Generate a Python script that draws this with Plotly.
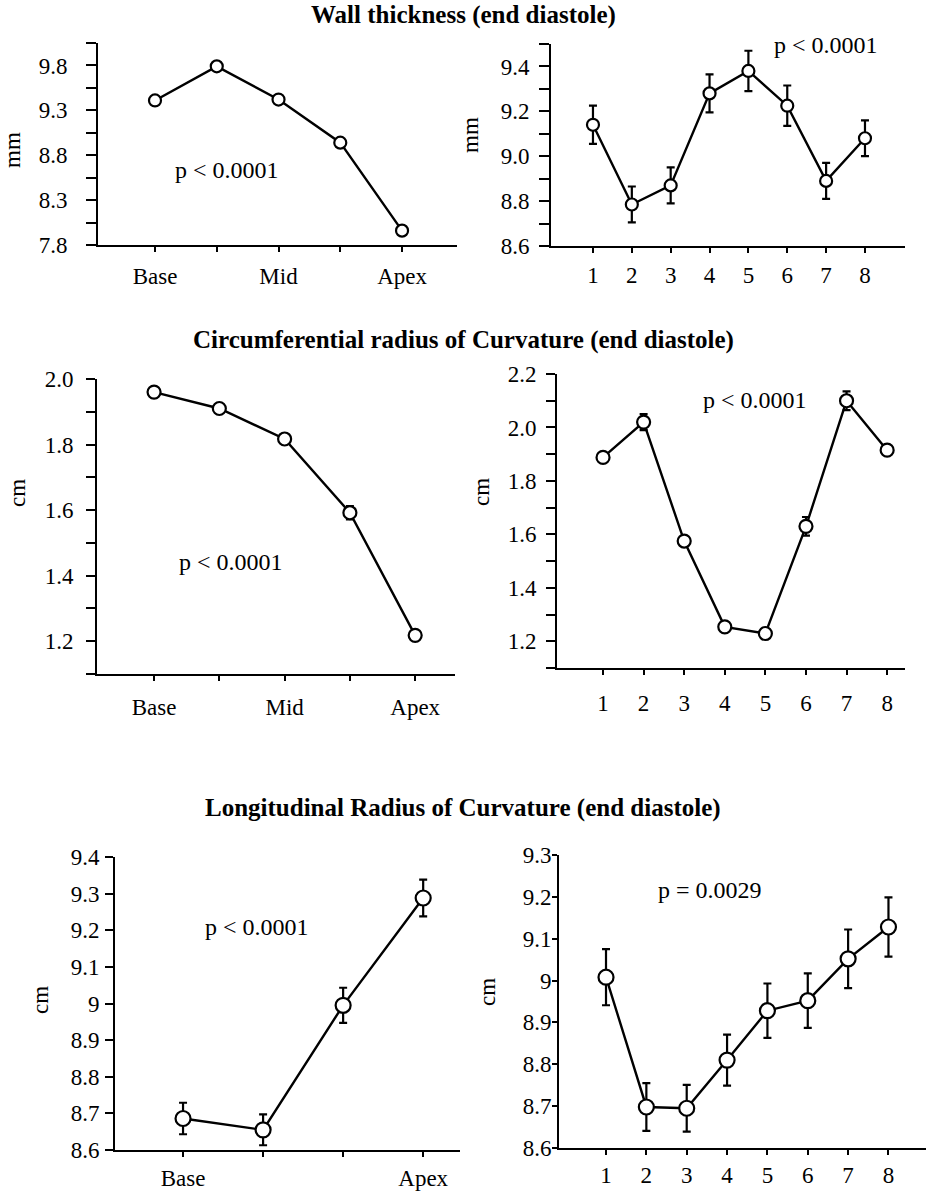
import plotly.graph_objects as go

# ---------------- data ----------------
region_labels_5 = ["Base", "", "Mid", "", "Apex"]
region_labels_4 = ["Base", "", "", "Apex"]
segment_labels = ["1", "2", "3", "4", "5", "6", "7", "8"]

wall_region_mean = [9.41, 9.79, 9.42, 8.94, 7.96]
wall_region_err = [0.03, 0.03, 0.02, 0.02, 0.03]
wall_segment_mean = [9.14, 8.785, 8.87, 9.28, 9.38, 9.225, 8.89, 9.08]
wall_segment_err = [0.085, 0.08, 0.08, 0.085, 0.09, 0.09, 0.08, 0.08]

circ_region_mean = [1.96, 1.91, 1.817, 1.592, 1.218]
circ_region_err = [0.015, 0.012, 0.015, 0.02, 0.012]
circ_segment_mean = [1.888, 2.02, 1.575, 1.254, 1.229, 1.63, 2.10, 1.915]
circ_segment_err = [0.015, 0.03, 0.015, 0.012, 0.012, 0.035, 0.035, 0.015]

long_region_mean = [8.686, 8.655, 8.995, 9.288]
long_region_err = [0.043, 0.042, 0.048, 0.05]
long_segment_mean = [9.008, 8.698, 8.695, 8.81, 8.928, 8.952, 9.052, 9.128]
long_segment_err = [0.067, 0.057, 0.056, 0.061, 0.065, 0.065, 0.07, 0.071]

wall_region_yticks = [7.8, 8.05, 8.3, 8.55, 8.8, 9.05, 9.3, 9.55, 9.8, 10.05]
wall_region_yticktext = ["7.8", "", "8.3", "", "8.8", "", "9.3", "", "9.8", ""]
wall_segment_yticks = [8.6, 8.7, 8.8, 8.9, 9.0, 9.1, 9.2, 9.3, 9.4, 9.5]
wall_segment_yticktext = ["8.6", "", "8.8", "", "9.0", "", "9.2", "", "9.4", ""]
circ_region_yticks = [1.1, 1.2, 1.3, 1.4, 1.5, 1.6, 1.7, 1.8, 1.9, 2.0]
circ_region_yticktext = ["", "1.2", "", "1.4", "", "1.6", "", "1.8", "", "2.0"]
circ_segment_yticks = [1.1, 1.2, 1.3, 1.4, 1.5, 1.6, 1.7, 1.8, 1.9, 2.0, 2.1, 2.2]
circ_segment_yticktext = ["", "1.2", "", "1.4", "", "1.6", "", "1.8", "", "2.0", "", "2.2"]
long_region_yticks = [8.6, 8.7, 8.8, 8.9, 9.0, 9.1, 9.2, 9.3, 9.4]
long_region_yticktext = ["8.6", "8.7", "8.8", "8.9", "9", "9.1", "9.2", "9.3", "9.4"]
long_segment_yticks = [8.6, 8.7, 8.8, 8.9, 9.0, 9.1, 9.2, 9.3]
long_segment_yticktext = ["8.6", "8.7", "8.8", "8.9", "9", "9.1", "9.2", "9.3"]

titles = ["Wall thickness (end diastole)",
          "Circumferential radius of Curvature (end diastole)",
          "Longitudinal Radius of Curvature (end diastole)"]
units = ["mm", "mm", "cm", "cm", "cm", "cm"]
pvals = ["p < 0.0001", "p < 0.0001", "p < 0.0001", "p < 0.0001", "p < 0.0001", "p = 0.0029"]

# ---------------- layout geometry ----------------
W, H = 926, 1193
FONT = "Liberation Serif, Times New Roman, serif"
TICK = 23


def px(x):
    return x / W


def py(y):
    return 1 - y / H


panels = [
    dict(mean=wall_region_mean, err=wall_region_err, xt=region_labels_5,
         yt=wall_region_yticks, ytt=wall_region_yticktext,
         xpx=(98, 457), ypx=(43, 245), xr=(0.077, 5.89), yr=(7.8, 10.05),
         ylen=10, ystand=14, xstand=4, msize=12,
         ylab=(13, 150), ptxt=(227, 170)),
    dict(mean=wall_segment_mean, err=wall_segment_err, xt=segment_labels,
         yt=wall_segment_yticks, ytt=wall_segment_yticktext,
         xpx=(551, 905), ypx=(44, 246), xr=(-0.08, 9.03), yr=(8.6, 9.5),
         ylen=10, ystand=5, xstand=2, msize=12,
         ylab=(470, 135), ptxt=(826, 45)),
    dict(mean=circ_region_mean, err=circ_region_err, xt=region_labels_5,
         yt=circ_region_yticks, ytt=circ_region_yticktext,
         xpx=(97, 455), ypx=(379, 674), xr=(0.126, 5.61), yr=(1.1, 2.0),
         ylen=9, ystand=8, xstand=6, msize=13,
         ylab=(17, 493), ptxt=(231, 562)),
    dict(mean=circ_segment_mean, err=circ_segment_err, xt=segment_labels,
         yt=circ_segment_yticks, ytt=circ_segment_yticktext,
         xpx=(557, 905), ypx=(374, 668), xr=(-0.134, 8.44), yr=(1.1, 2.2),
         ylen=9, ystand=5, xstand=8, msize=13,
         ylab=(481, 492), ptxt=(755, 400)),
    dict(mean=long_region_mean, err=long_region_err, xt=region_labels_4,
         yt=long_region_yticks, ytt=long_region_yticktext,
         xpx=(115, 460), ypx=(857, 1150), xr=(0.15, 4.46), yr=(8.6, 9.4),
         ylen=8, ystand=1, xstand=1, msize=15,
         ylab=(40, 1000), ptxt=(257, 927)),
    dict(mean=long_segment_mean, err=long_segment_err, xt=segment_labels,
         yt=long_segment_yticks, ytt=long_segment_yticktext,
         xpx=(559, 926), ypx=(855, 1148), xr=(-0.165, 8.93), yr=(8.6, 9.3),
         ylen=5, ystand=-4, xstand=0, msize=15,
         ylab=(487, 992), ptxt=(710, 890)),
]

fig = go.Figure()
layout = dict(width=W, height=H, margin=dict(l=0, r=0, t=0, b=0, autoexpand=False),
              paper_bgcolor="white", plot_bgcolor="white", showlegend=False,
              font=dict(family=FONT, size=TICK, color="black"))
annotations = []

for i, p in enumerate(panels):
    n = i + 1
    xs = list(range(1, len(p["mean"]) + 1))
    fig.add_trace(go.Scatter(
        x=xs, y=p["mean"], mode="lines+markers",
        xaxis=f"x{n}", yaxis=f"y{n}",
        line=dict(color="black", width=2.4),
        marker=dict(symbol="circle", size=p["msize"], color="white",
                    line=dict(color="black", width=2.2)),
        error_y=dict(type="data", array=p["err"], visible=True,
                     color="black", thickness=2.2, width=4),
        cliponaxis=False,
    ))
    xk = "xaxis" if n == 1 else f"xaxis{n}"
    yk = "yaxis" if n == 1 else f"yaxis{n}"
    layout[xk] = dict(domain=[px(p["xpx"][0]), px(p["xpx"][1])], range=list(p["xr"]),
                      anchor=f"y{n}", showline=True, linecolor="black", linewidth=2,
                      showgrid=False, zeroline=False, ticks="outside", ticklen=5,
                      tickwidth=2, tickcolor="black", tickvals=xs, ticktext=p["xt"],
                      ticklabelstandoff=p["xstand"], automargin=False,
                      tickfont=dict(family=FONT, size=TICK, color="black"))
    layout[yk] = dict(domain=[py(p["ypx"][1]), py(p["ypx"][0])], range=list(p["yr"]),
                      anchor=f"x{n}", showline=True, linecolor="black", linewidth=2,
                      showgrid=False, zeroline=False, ticks="outside", ticklen=p["ylen"],
                      tickwidth=2, tickcolor="black", tickvals=p["yt"], ticktext=p["ytt"],
                      ticklabelstandoff=p["ystand"], automargin=False,
                      tickfont=dict(family=FONT, size=TICK, color="black"))
    annotations.append(dict(text=units[i], x=px(p["ylab"][0]), y=py(p["ylab"][1]),
                            xref="paper", yref="paper", showarrow=False, textangle=-90,
                            xanchor="center", yanchor="middle",
                            font=dict(family=FONT, size=23, color="black")))
    annotations.append(dict(text=pvals[i], x=px(p["ptxt"][0]), y=py(p["ptxt"][1]),
                            xref="paper", yref="paper", showarrow=False,
                            xanchor="center", yanchor="middle",
                            font=dict(family=FONT, size=24, color="black")))

for t, ty in zip(titles, [15, 340, 808]):
    annotations.append(dict(text=f"<b>{t}</b>", x=0.5, y=py(ty), xref="paper", yref="paper",
                            showarrow=False, xanchor="center", yanchor="middle",
                            font=dict(family=FONT, size=25, color="black")))

layout["annotations"] = annotations
fig.update_layout(**layout)
fig.write_html("out.html", config={"displayModeBar": False},
               post_script="document.body.style.margin='0';document.body.style.overflow='hidden';")
